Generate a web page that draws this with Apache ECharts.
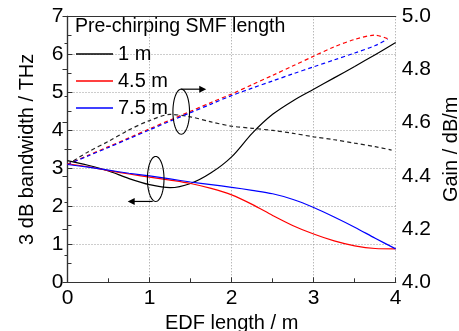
<!DOCTYPE html>
<html>
<head>
<meta charset="utf-8">
<script src="https://cdn.jsdelivr.net/npm/echarts@6/dist/echarts.min.js"></script>
<style>html,body{margin:0;padding:0;background:#fff;}#c{width:459px;height:331px;}</style>
</head>
<body>
<div id="c"></div>
<script>
// ---- data ----
const edfX = [0,0.25,0.5,0.75,1,1.25,1.5,1.75,2,2.25,2.5,2.75,3,3.25,3.5,3.75,4];
const bw_1m  = [3.20,3.08,2.93,2.73,2.57,2.49,2.60,2.88,3.30,3.92,4.42,4.78,5.08,5.38,5.68,5.99,6.31];
const bw_45m = [3.12,3.04,2.94,2.85,2.77,2.69,2.60,2.47,2.30,2.05,1.76,1.49,1.27,1.09,0.96,0.89,0.88];
const bw_75m = [3.10,3.03,2.95,2.87,2.80,2.72,2.64,2.57,2.50,2.42,2.33,2.18,1.97,1.72,1.45,1.16,0.88];

const gainX  = [0,0.25,0.5,0.75,1,1.25,1.5,1.75,2,2.25,2.5,2.75,3,3.25,3.5,3.75,3.9];
const gainX1 = [0,0.25,0.5,0.75,1,1.25,1.5,1.75,2,2.25,2.5,2.75,3,3.25,3.5,3.75,3.95];
const gain_1m  = [4.443,4.490,4.530,4.573,4.608,4.631,4.622,4.603,4.587,4.579,4.571,4.560,4.547,4.536,4.523,4.510,4.497];
const gain_45m = [4.443,4.477,4.510,4.543,4.577,4.610,4.643,4.676,4.708,4.743,4.778,4.814,4.850,4.885,4.913,4.929,4.916];
const gain_75m = [4.443,4.475,4.507,4.540,4.573,4.606,4.638,4.670,4.702,4.730,4.757,4.784,4.810,4.836,4.862,4.890,4.914];

const legendNames = ['1 m','4.5 m','7.5 m'];
const legendTitle = 'Pre-chirping SMF length';
const xName = 'EDF length / m';
const yLeftName = '3 dB bandwidth / THz';
const yRightName = 'Gain / dB/m';

const FONT = 'Liberation Sans, Arial, sans-serif';
const AX = '#333';
const pairs = (xs, ys) => ys.map((v, i) => [xs[i], v]);

const chart = echarts.init(document.getElementById('c'), null, {renderer: 'canvas'});
const gridLine = {show: true, lineStyle: {color: '#9a9a9a', type: [1, 2], width: 1}};

const solid = (name, xs, ys, color) => ({
  name, type: 'line', data: pairs(xs, ys), yAxisIndex: 0, smooth: 0.3,
  symbol: 'none', lineStyle: {color, width: 1.2}, itemStyle: {color}, z: 3
});
const dashed = (name, xs, ys, color) => ({
  name, type: 'line', data: pairs(xs, ys), yAxisIndex: 1, smooth: 0.3,
  symbol: 'none', lineStyle: {color, width: 1.2, type: [4, 3]}, itemStyle: {color}, z: 2
});

chart.setOption({
  animation: false,
  textStyle: {fontFamily: FONT},
  grid: {left: 67.5, right: 63.3, top: 16.3, bottom: 48.7, containLabel: false, outerBoundsMode: 'none'},
  legend: {
    data: legendNames.map(n => ({name: n, icon: 'rect'})), orient: 'vertical', left: 76, top: 44,
    padding: 0, itemWidth: 37, itemHeight: 1.4, itemGap: 7,
    textStyle: {fontFamily: FONT, fontSize: 20, color: '#000', lineHeight: 20},
    selectedMode: false
  },
  xAxis: [{
    type: 'value', min: 0, max: 4, interval: 1,
    name: xName, nameLocation: 'middle', nameGap: 27,
    nameTextStyle: {fontFamily: FONT, fontSize: 20, color: '#000'},
    axisLine: {show: true, lineStyle: {color: AX, width: 1.2}},
    axisTick: {show: true, inside: true, length: 5, lineStyle: {color: AX}},
    minorTick: {show: true, splitNumber: 2, length: 4, lineStyle: {color: AX}},
    axisLabel: {fontFamily: FONT, fontSize: 21, color: '#000', margin: 5},
    splitLine: gridLine
  }, {
    type: 'value', position: 'top', min: 0, max: 4, interval: 1,
    axisLine: {show: true, onZero: false, lineStyle: {color: AX, width: 1.2}},
    axisTick: {show: false}, axisLabel: {show: false}, splitLine: {show: false}
  }],
  yAxis: [{
    type: 'value', min: 0, max: 7, interval: 1,
    name: yLeftName, nameLocation: 'middle', nameGap: 30, nameRotate: 90,
    nameTextStyle: {fontFamily: FONT, fontSize: 20, color: '#000'},
    axisLine: {show: true, lineStyle: {color: AX, width: 1.2}},
    axisTick: {show: true, inside: true, length: 5, lineStyle: {color: AX}},
    minorTick: {show: true, splitNumber: 2, length: 4, lineStyle: {color: AX}},
    axisLabel: {fontFamily: FONT, fontSize: 21, color: '#000', margin: 4},
    splitLine: gridLine
  }, {
    type: 'value', min: 4.0, max: 5.0, interval: 0.2, position: 'right',
    name: yRightName, nameLocation: 'middle', nameGap: 42, nameRotate: 90,
    nameTextStyle: {fontFamily: FONT, fontSize: 20, color: '#000'},
    axisLine: {show: true, lineStyle: {color: AX, width: 1.2}},
    axisTick: {show: true, inside: true, length: 5, lineStyle: {color: AX}},
    minorTick: {show: true, splitNumber: 2, length: 3, lineStyle: {color: AX}},
    axisLabel: {fontFamily: FONT, fontSize: 21, color: '#000', margin: 6,
      formatter: v => v.toFixed(1)},
    splitLine: {show: false}
  }],
  series: [
    solid(legendNames[0], edfX, bw_1m, '#000000'),
    solid(legendNames[1], edfX, bw_45m, '#ff0000'),
    solid(legendNames[2], edfX, bw_75m, '#0000ff'),
    dashed('gain ' + legendNames[0], gainX1, gain_1m, '#222222'),
    dashed('gain ' + legendNames[1], gainX, gain_45m, '#ff0000'),
    dashed('gain ' + legendNames[2], gainX, gain_75m, '#0000ff')
  ]
});

// ---- annotations: loop + arrow marking which axis each group uses ----
function ellipsePts(cx, cy, rx, ry) {
  const p = [];
  for (let i = 0; i <= 60; i++) {
    const t = i / 60 * Math.PI * 2;
    p.push([cx + rx * Math.cos(t), cy + ry * Math.sin(t)]);
  }
  return p;
}
function loopArrow(center, dir) {
  const [cx, cy] = chart.convertToPixel({xAxisIndex: 0, yAxisIndex: 0}, center);
  const rx = 8.3, ry = 22.5;
  const els = [{
    type: 'polyline', shape: {points: ellipsePts(cx, cy, rx, ry), smooth: 0},
    style: {stroke: '#000', lineWidth: 1.1, fill: null}, z: 10
  }];
  const ay = dir > 0 ? cy - ry : cy + ry;
  const x0 = cx + (dir > 0 ? 0 : -3);
  const x1 = x0 + dir * 25;
  els.push({type: 'line', shape: {x1: x0, y1: ay, x2: x1 - dir * 5, y2: ay},
    style: {stroke: '#000', lineWidth: 1.2}, z: 10});
  els.push({type: 'polygon', shape: {points: [[x1, ay], [x1 - dir * 7, ay - 3.5], [x1 - dir * 7, ay + 3.5]]},
    style: {fill: '#000'}, z: 10});
  return els;
}

chart.setOption({
  graphic: [
    {type: 'text', left: 75, top: 17, z: 10,
     style: {text: legendTitle, fontFamily: FONT, fontSize: 19.5, fill: '#000'}},
    ...loopArrow([1.386, 4.49], 1),
    ...loopArrow([1.075, 2.72], -1)
  ]
});
</script>
</body>
</html>
